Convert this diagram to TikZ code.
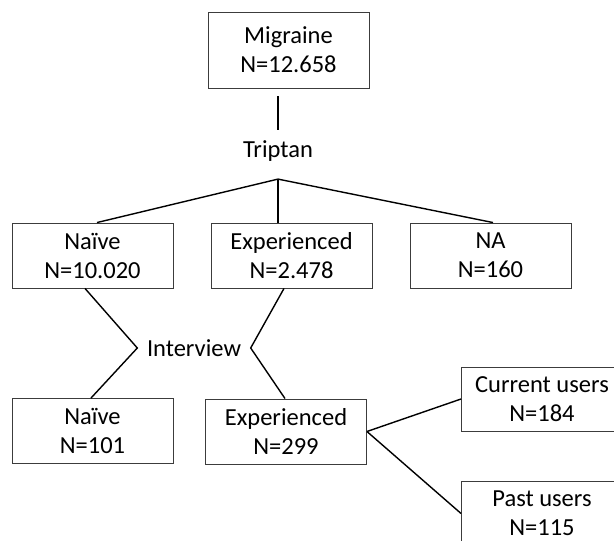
\documentclass[tikz,border=0pt]{standalone}
\usepackage{fontspec}
\setmainfont{Carlito}
\usepackage{tikz}
\usetikzlibrary{positioning}
\definecolor{boxgrey}{RGB}{60,60,60}

\begin{document}
\begin{tikzpicture}[x=1pt,y=-1pt,
  box/.style={draw=boxgrey, line width=0.9pt, minimum width=161pt, minimum height=65pt, inner sep=0pt, align=center, font=\fontsize{24.5}{29}\selectfont},
  plaintext/.style={inner sep=0pt, font=\fontsize{24.5}{29}\selectfont},
  link/.style={line width=1.4pt}]
\clip (0,0) rectangle (614,541);

\node [box, minimum height=76pt] (migraine) at (288.5,50) {Migraine\\N=12.658};
\node [plaintext, inner ysep=10.5pt] (triptan) at (278,151) {Triptan};
\coordinate [below=7pt of triptan] (tsplit);

\node [box] (naive1) at (92.5,255.5) {Naïve\\N=10.020};
\node [box] (exp1) at (291.5,255.5) {Experienced\\N=2.478};
\node [box] (na) at (490.5,255.5) {NA\\N=160};

\node [plaintext, inner xsep=9.5pt] (interview) at (194,348) {Interview};

\node [box] (naive2) at (92.5,431) {Naïve\\N=101};
\node [box] (exp2) at (286,431.5) {Experienced\\N=299};
\node [box, minimum height=64pt] (current) at (542,399) {Current users\\N=184};
\node [box] (past) at (542,513.5) {Past users\\N=115};

\draw [link, shorten >=8pt] (triptan.north) -- (triptan.north |- migraine.south);
\draw [link] (tsplit) -- ([xshift=4.5pt]naive1.north);
\draw [link] (tsplit) -- (tsplit |- exp1.north);
\draw [link] (tsplit) -- ([xshift=2.5pt]na.north);

\draw [link] ([xshift=-7.5pt]naive1.south) -- (interview.west) -- ([xshift=-1.5pt]naive2.north);
\draw [link] ([xshift=-7.5pt]exp1.south) -- (interview.east) -- ([xshift=-1pt]exp2.north);

\draw [link] (exp2.east) -- (current.west);
\draw [link] (exp2.east) -- (past.west);

\end{tikzpicture}
\end{document}
